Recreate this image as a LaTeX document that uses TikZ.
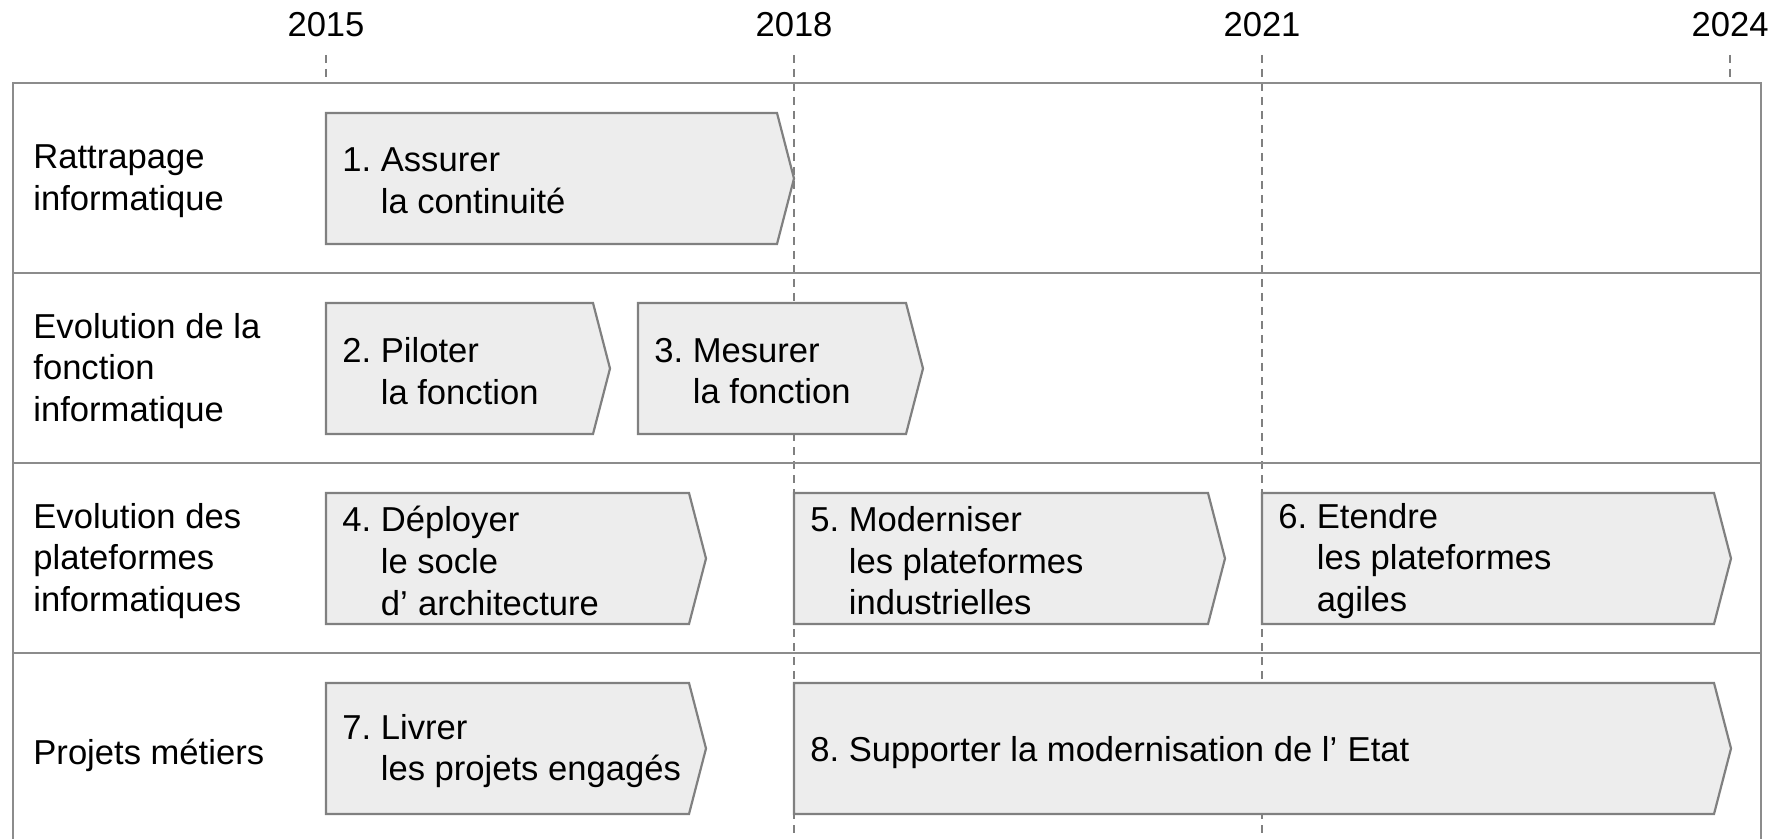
\documentclass[tikz,border=0pt]{standalone}
\usepackage{fontspec}
\setmainfont{Liberation Sans}
\usepackage{tikz}
\usetikzlibrary{positioning}
\frenchspacing
\definecolor{boxfill}{HTML}{EDEDED}
\definecolor{boxline}{HTML}{808080}
\definecolor{gridline}{HTML}{8C8C8C}
\tikzset{
    chev/.style={fill=boxfill, draw=boxline, line width=1.1pt, line join=miter},
    frameline/.style={draw=gridline, line width=1.2pt},
    yearline/.style={draw=boxline, line width=0.8pt, dash pattern=on 4pt off 3pt},
    txt/.style={font=\fontsize{17.3pt}{20.8pt}\selectfont, align=left, inner sep=0pt, anchor=west, yshift=-1.5pt},
    year/.style={font=\fontsize{17.3pt}{20.8pt}\selectfont, anchor=south, inner xsep=0pt, inner ysep=9pt}
}

\begin{document}
\begin{tikzpicture}[x=0.5pt, y=-0.5pt]
            \useasboundingbox (0,0) rectangle (1786,839);

            \node[year] (y2015) at (326,55) {2015};
            \node[year] (y2018) at (794,55) {2018};
            \node[year] (y2021) at (1262,55) {2021};
            \node[year] (y2024) at (1730,55) {2024};
            \coordinate (e2015) at (326,83);
            \coordinate (e2018) at (794,839);
            \coordinate (e2021) at (1262,839);
            \coordinate (e2024) at (1730,83);
            \draw[yearline] (y2015.south) -- (e2015);
            \draw[yearline] (y2018.south) -- (e2018);
            \draw[yearline] (y2021.south) -- (e2021);
            \draw[yearline] (y2024.south) -- (e2024);

            \draw[frameline] (13,839) -- (13,83) -- (1761,83) -- (1761,839);
            \draw[frameline] (13,273) -- (1761,273);
            \draw[frameline] (13,463) -- (1761,463);
            \draw[frameline] (13,653) -- (1761,653);

            \draw[chev] (326,113) -- (777,113) -- (794,178.5) -- (777,244) -- (326,244) -- cycle;
            \draw[chev] (326,303) -- (593,303) -- (610,368.5) -- (593,434) -- (326,434) -- cycle;
            \draw[chev] (638,303) -- (906,303) -- (923,368.5) -- (906,434) -- (638,434) -- cycle;
            \draw[chev] (326,493) -- (689,493) -- (706,558.5) -- (689,624) -- (326,624) -- cycle;
            \draw[chev] (794,493) -- (1208,493) -- (1225,558.5) -- (1208,624) -- (794,624) -- cycle;
            \draw[chev] (1262,493) -- (1714,493) -- (1731,558.5) -- (1714,624) -- (1262,624) -- cycle;
            \draw[chev] (326,683) -- (689,683) -- (706,748.5) -- (689,814) -- (326,814) -- cycle;
            \draw[chev] (794,683) -- (1714,683) -- (1731,748.5) -- (1714,814) -- (794,814) -- cycle;

            \node[txt] (row1) at (33,178) {Rattrapage\\informatique};
            \node[txt] (row2) at (33,368) {Evolution de la\\fonction\\informatique};
            \node[txt] (row3) at (33,558) {Evolution des\\plateformes\\informatiques};
            \node[txt] (row4) at (33,752) {Projets métiers};

            \node[txt] (act1) at (342,178) {1. Assurer\\\phantom{1.\ }la continuité};
            \node[txt] (act2) at (342,368) {2. Piloter\\\phantom{2.\ }la fonction};
            \node[txt] (act3) at (654,368) {3. Mesurer\\\phantom{3.\ }la fonction};
            \node[txt] (act4) at (342,558) {4. Déployer\\\phantom{4.\ }le socle\\\phantom{4.\ }d’\hspace{0.3em}architecture};
            \node[txt] (act5) at (810,558) {5. Moderniser\\\phantom{5.\ }les plateformes\\\phantom{5.\ }industrielles};
            \node[txt] (act6) at (1278,558) {6. Etendre\\\phantom{6.\ }les plateformes\\\phantom{6.\ }agiles};
            \node[txt] (act7) at (342,748) {7. Livrer\\\phantom{7.\ }les projets engagés};
            \node[txt] (act8) at (810,750) {8. Supporter la modernisation de l’\hspace{0.3em}Etat};
\end{tikzpicture}
\end{document}
